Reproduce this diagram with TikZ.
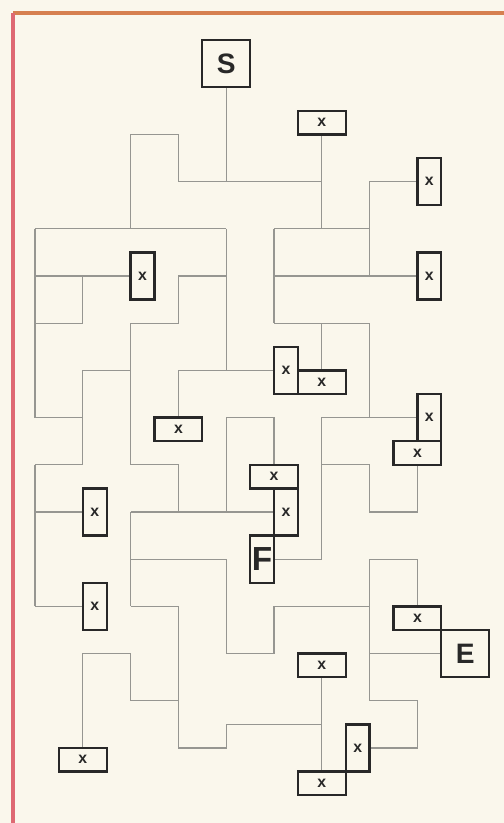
\documentclass[tikz,border=0pt]{standalone}
\usepackage{fontspec}
\setmainfont{Liberation Sans}
\usetikzlibrary{backgrounds}
\definecolor{bgc}{RGB}{250,247,236}
\definecolor{mazec}{RGB}{150,150,145}
\definecolor{boxc}{RGB}{40,40,40}
\definecolor{topc}{RGB}{214,128,80}
\definecolor{leftc}{RGB}{222,105,115}
\begin{document}
\begin{tikzpicture}[x=0.956cm,y=-0.944cm,
  mline/.style={draw=mazec, line width=0.7pt, line join=miter},
  boxbase/.style={draw=boxc, line width=1.35pt, fill=bgc, inner sep=0pt, outer sep=0pt, text=boxc},
  hbox/.style={boxbase, minimum width=0.956cm, minimum height=0.472cm, font=\bfseries\fontsize{9}{9}\selectfont},
  vbox/.style={boxbase, minimum width=0.478cm, minimum height=0.944cm, font=\bfseries\fontsize{9}{9}\selectfont},
  bigbox/.style={boxbase, minimum width=0.956cm, minimum height=0.944cm, font=\bfseries\fontsize{16}{16}\selectfont}
]
\useasboundingbox (-0.7322,-0.8475) rectangle (9.8117,16.589);
% boxes
\node[bigbox] (S) at (4,0.5) {S};
\node[hbox] (x1) at (6,1.75) {x};
\node[vbox] (x2) at (8.25,3) {x};
\node[vbox] (x3) at (8.25,5) {x};
\node[vbox] (x4) at (2.25,5) {x};
\node[vbox] (A) at (5.25,7) {x};
\node[hbox] (B) at (6,7.25) {x};
\node[hbox] (x5) at (3,8.25) {x};
\node[vbox] (C) at (8.25,8) {x};
\node[hbox] (D) at (8,8.75) {x};
\node[hbox] (E1) at (5,9.25) {x};
\node[vbox] (F1) at (5.25,10) {x};
\node[vbox, font=\bfseries\fontsize{19}{19}\selectfont] (Fl) at (4.75,11) {F};
\node[vbox] (x6) at (1.25,10) {x};
\node[vbox] (x7) at (1.25,12) {x};
\node[hbox] (x8) at (1,15.25) {x};
\node[hbox] (x9) at (6,13.25) {x};
\node[hbox] (x10) at (6,15.75) {x};
\node[vbox] (x11) at (6.75,15) {x};
\node[hbox] (x12) at (8,12.25) {x};
\node[bigbox] (E) at (9,13) {E};
\begin{scope}[on background layer]
\fill[bgc] (-0.7322,-0.8475) rectangle (9.8117,16.589);
\draw[topc, line width=2pt] (-0.46,-0.572) -- (9.82,-0.572);
\draw[leftc, line width=2pt] (-0.46,-0.572) -- (-0.46,16.6);
% maze
\draw[mline] (S.south) -- (4,3);
\draw[mline] (3,3) -- (6,3);
\draw[mline] (3,3) -- (3,2) -- (2,2) -- (2,4);
\draw[mline] (x1.south) -- (6,4);
\draw[mline] (x2.west) -- (7,3) -- (7,5);
\draw[mline] (5,4) -- (7,4);
\draw[mline] (5,4) -- (5,6);
\draw[mline] (5,5) -- (x3.west);
\draw[mline] (0,4) -- (4,4);
\draw[mline] (4,4) -- (4,7);
\draw[mline] (0,4) -- (0,8);
\draw[mline] (0,5) -- (x4.west);
\draw[mline] (1,5) -- (1,6) -- (0,6);
\draw[mline] (0,8) -- (1,8);
\draw[mline] (1,7) -- (1,9);
\draw[mline] (1,7) -- (2,7);
\draw[mline] (2,6) -- (2,9);
\draw[mline] (2,6) -- (3,6) -- (3,5) -- (4,5);
\draw[mline] (3,7) -- (A.west);
\draw[mline] (3,7) -- (x5.north);
\draw[mline] (5,6) -- (7,6);
\draw[mline] (6,6) -- (B.north);
\draw[mline] (7,6) -- (7,8);
\draw[mline] (Fl.east) -- (6,11) -- (6,8) -- (C.west);
\draw[mline] (6,9) -- (7,9) -- (7,10) -- (8,10) -- (D.south);
\draw[mline] (4,8) -- (5,8) -- (E1.north);
\draw[mline] (4,8) -- (4,10);
\draw[mline] (2,10) -- (F1.west);
\draw[mline] (2,10) -- (2,12);
\draw[mline] (2,9) -- (3,9) -- (3,10);
\draw[mline] (0,9) -- (0,12);
\draw[mline] (0,9) -- (1,9);
\draw[mline] (0,10) -- (x6.west);
\draw[mline] (0,12) -- (x7.west);
\draw[mline] (2,11) -- (4,11) -- (4,13) -- (5,13) -- (5,12) -- (7,12);
\draw[mline] (2,12) -- (3,12) -- (3,15) -- (4,15) -- (4,14.5) -- (6,14.5);
\draw[mline] (x8.north) -- (1,13) -- (2,13) -- (2,14) -- (3,14);
\draw[mline] (x9.south) -- (x10.north);
\draw[mline] (7,11) -- (7,14);
\draw[mline] (7,11) -- (8,11) -- (x12.north);
\draw[mline] (7,13) -- (E.west);
\draw[mline] (7,14) -- (8,14) -- (8,15) -- (x11.east);
\end{scope}
\end{tikzpicture}
\end{document}
